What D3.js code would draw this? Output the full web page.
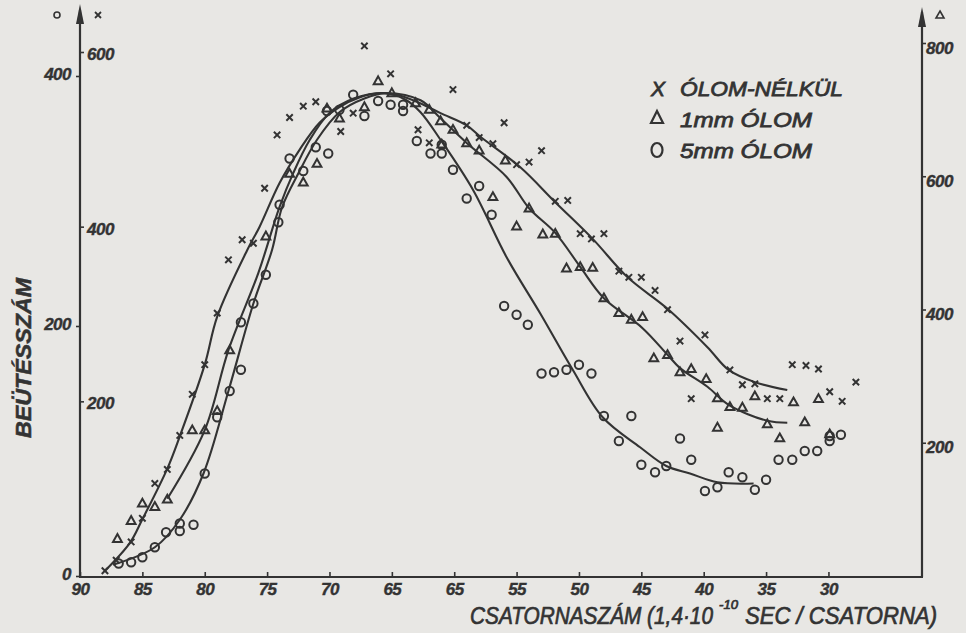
<!DOCTYPE html>
<html><head><meta charset="utf-8">
<script src="https://cdn.jsdelivr.net/npm/d3@7"></script>
<style>
html,body{margin:0;padding:0;background:#e8e7e4;}
svg{display:block;}
</style></head><body>
<svg id="chart" width="966" height="633"></svg>
<script>
// ---- tick labels ----
const xTicks = [90,85,80,75,70,65,60,55,50,45,40,35,30];
const xTickLabels = ["90","85","80","75","70","65","65","55","50","45","40","35","30"];
const noLeadTicks = [200,400,600];     // inner left scale (×)
const fiveMmTicks = [0,200,400];       // outer left scale (○)
const oneMmTicks  = [200,400,600,800]; // right scale (△)

// ---- series: [channel, counts] ----
const noLeadPoints = [[88.0,6],[87.1,18],[85.9,39],[85.0,66],[84.0,106],[83.0,122],[82.0,161],[81.0,208],[80.0,242],[79.0,301],[78.1,362],[77.0,385],[76.1,381],[75.2,444],[74.2,505],[73.2,525],[72.1,538],[71.1,543],[69.1,509],[68.1,530],[67.2,607],[65.1,575],[62.9,511],[62.0,496],[60.1,557],[59.0,516],[58.0,502],[56.9,495],[56.0,519],[55.0,471],[54.0,474],[53.0,487],[51.9,429],[50.9,430],[49.9,392],[49.0,386],[48.0,392],[46.8,349],[46.0,342],[45.0,342],[43.9,327],[42.9,305],[41.9,269],[41.0,203],[39.9,276],[37.9,236],[36.9,219],[35.9,220],[34.9,203],[33.9,203],[32.9,242],[31.8,241],[30.8,237],[29.9,211],[28.9,200],[27.8,222]];
const oneMmPoints = [[87.0,56],[85.9,83],[85.0,109],[84.0,104],[83.0,115],[81.0,219],[80.0,219],[79.0,248],[78.0,339],[75.1,510],[73.2,604],[72.1,591],[71.0,619],[70.2,702],[69.2,687],[67.2,704],[66.1,743],[65.0,725],[63.1,710],[62.0,700],[61.1,683],[61.0,648],[60.1,670],[59.0,650],[58.0,639],[56.9,569],[55.9,624],[55.0,525],[54.0,552],[52.9,513],[51.9,514],[51.0,462],[49.9,464],[48.9,463],[48.0,417],[46.8,395],[45.8,385],[44.9,389],[44.0,327],[42.9,332],[41.9,306],[41.0,311],[39.8,296],[38.9,267],[38.9,223],[37.9,254],[36.9,253],[35.9,270],[34.9,228],[33.9,207],[32.8,261],[31.9,231],[30.8,266],[29.9,213]];
const fiveMmPoints = [[86.9,10],[85.9,11],[85.0,15],[84.0,23],[83.1,35],[82.0,42],[82.0,36],[80.9,41],[80.0,82],[79.0,127],[78.0,148],[77.1,165],[77.1,203],[76.1,218],[75.1,241],[74.1,283],[74.0,297],[73.2,334],[72.1,324],[71.1,343],[70.1,338],[70.2,372],[69.2,373],[68.1,385],[67.2,368],[66.1,380],[65.1,377],[64.1,372],[64.1,377],[63.0,348],[61.9,338],[61.0,345],[61.0,338],[60.1,325],[59.0,302],[58.0,312],[57.0,289],[56.0,216],[55.0,209],[54.1,201],[53.0,162],[52.0,163],[51.0,165],[50.0,169],[49.0,162],[48.0,128],[46.8,108],[45.8,128],[45.0,89],[43.9,83],[43.0,88],[41.9,110],[41.0,93],[39.9,68],[38.9,71],[38.0,83],[36.9,79],[35.9,69],[35.0,77],[34.0,93],[32.9,93],[31.9,100],[30.9,100],[29.9,112],[29.9,108],[29.0,113]];

// ---- hand-drawn fitted curves ----
const noLeadCurve = [[88.0,6],[86.0,38],[85.0,65],[83.0,123],[82.0,160],[80.0,242],[79.0,297],[76.6,373],[75.6,400],[74.0,450],[72.4,488],[70.8,519],[69.2,537],[67.6,548],[65.9,553],[64.6,551],[63.0,543],[61.1,530],[59.0,516],[57.9,503],[54.7,468],[51.9,428],[48.9,386],[46.1,342],[42.9,306],[39.7,262],[38.0,236],[35.9,222],[33.3,213]];
const oneMmCurve = [[83.0,116],[80.0,219],[78.1,339],[75.7,455],[74.0,554],[72.9,605],[71.6,654],[70.0,695],[68.0,717],[65.5,725],[62.7,714],[61.1,687],[59.0,650],[55.8,599],[54.0,552],[51.9,515],[49.9,464],[48.0,417],[44.9,372],[42.9,332],[41.9,312],[39.7,284],[38.0,257],[34.9,233],[33.3,230]];
const fiveMmCurve = [[87.35,9],[84.0,23],[82.0,45],[80.1,82],[78.1,148],[76.1,218],[74.6,261],[73.8,295],[72.5,322],[71.0,349],[69.2,371],[67.2,382],[65.5,386],[63.9,381],[62.7,371],[61.1,349],[58.5,309],[55.8,255],[53.1,210],[50.5,165],[48.1,127],[45.1,103],[43.0,88],[41.1,82],[38.9,75],[36.0,74]];

const legendLabels = ["ÓLOM-NÉLKÜL","1mm ÓLOM","5mm ÓLOM"];
const yTitle = "BEÜTÉSSZÁM";

// ---- setup ----
const INK = "#333333";
const FONT = "'Liberation Sans',Arial,sans-serif";
const svg = d3.select("#chart");
svg.append("rect").attr("width",966).attr("height",633).attr("fill","#e8e7e4");

const x = d3.scaleLinear().domain([90,22.5]).range([80,922]);
const yNo = d3.scaleLinear().domain([0,600]).range([576,52]);
const y5 = d3.scaleLinear().domain([0,400]).range([576,76]);
const y1 = d3.scaleLinear().domain([0,800]).range([576,43]);

// axis lines with arrows
const ax = svg.append("g").attr("stroke",INK).attr("stroke-width",2.2).attr("fill","none");
ax.append("path").attr("d","M80,577V10");
ax.append("path").attr("d","M79,577H923");
ax.append("path").attr("d","M922,577V12");
svg.append("path").attr("d","M80,4L76,24L84,24Z").attr("fill",INK);
svg.append("path").attr("d","M922,7L918,27L926,27Z").attr("fill",INK);

function styleAxis(g, size){
  g.select(".domain").remove();
  g.selectAll("line").attr("stroke",INK).attr("stroke-width",1.6);
  g.selectAll("text").attr("fill",INK).attr("stroke",INK).attr("stroke-width",0.4)
    .style("font-family",FONT).style("font-style","italic").style("font-weight","bold")
    .style("font-size",size+"px").style("letter-spacing","-0.5px");
}

const gx = svg.append("g").attr("transform","translate(0,576)")
  .call(d3.axisBottom(x).tickValues(xTicks).tickFormat((d,i)=>xTickLabels[i]).tickSize(-4).tickPadding(7));
styleAxis(gx,17);

const gNo = svg.append("g").attr("transform","translate(80,0)")
  .call(d3.axisRight(yNo).tickValues(noLeadTicks).tickSize(4).tickPadding(3));
styleAxis(gNo,17);
gNo.selectAll("text").attr("dy","0.45em");

const g5 = svg.append("g").attr("transform","translate(80,0)")
  .call(d3.axisLeft(y5).tickValues(fiveMmTicks).tickSize(4).tickPadding(5));
styleAxis(g5,17);
g5.selectAll("text").attr("dy","0.2em");

const g1 = svg.append("g").attr("transform","translate(922,0)")
  .call(d3.axisRight(y1).tickValues(oneMmTicks).tickSize(4).tickPadding(0));
styleAxis(g1,17);
g1.selectAll("text").attr("dy","0.6em");

// scale-identifying marks at axis tops
svg.append("circle").attr("cx",57).attr("cy",15).attr("r",3).attr("fill","none").attr("stroke",INK).attr("stroke-width",1.6);
svg.append("path").attr("d","M95,12L101,18M101,12L95,18").attr("stroke",INK).attr("stroke-width",1.8);
svg.append("path").attr("d","M940,11L944,18L936,18Z").attr("fill","none").attr("stroke",INK).attr("stroke-width",1.6);

// curves
const mkLine = ys => d3.line().x(d=>x(d[0])).y(d=>ys(d[1])).curve(d3.curveCatmullRom.alpha(0.5));
const cg = svg.append("g").attr("fill","none").attr("stroke",INK).attr("stroke-width",2.1);
cg.append("path").attr("d",mkLine(yNo)(noLeadCurve));
cg.append("path").attr("d",mkLine(y1)(oneMmCurve));
cg.append("path").attr("d",mkLine(y5)(fiveMmCurve));

// markers
const mg = svg.append("g").attr("stroke",INK).attr("stroke-width",2).attr("fill","none");
mg.selectAll("path.cross").data(noLeadPoints).join("path").attr("class","cross")
  .attr("d",d=>{const cx=x(d[0]),cy=yNo(d[1]),s=3.2;return `M${cx-s},${cy-s}L${cx+s},${cy+s}M${cx+s},${cy-s}L${cx-s},${cy+s}`;});
mg.selectAll("path.tri").data(oneMmPoints).join("path").attr("class","tri")
  .attr("d",d=>{const cx=x(d[0]),cy=y1(d[1]);return `M${cx},${cy-4.6}L${cx+4.4},${cy+3.2}L${cx-4.4},${cy+3.2}Z`;});
mg.selectAll("circle").data(fiveMmPoints).join("circle")
  .attr("cx",d=>x(d[0])).attr("cy",d=>y5(d[1])).attr("r",4.2);

// legend
const lg = svg.append("g").attr("fill",INK).style("font-family",FONT).style("font-style","italic").style("font-size","21px");
lg.append("text").attr("x",651).attr("y",96).attr("stroke",INK).attr("stroke-width",0.8).text("X");
lg.append("path").attr("d","M657,111L663,123L651,123Z").attr("fill","none").attr("stroke",INK).attr("stroke-width",2.2);
lg.append("ellipse").attr("cx",657).attr("cy",150).attr("rx",5.5).attr("ry",7).attr("fill","none").attr("stroke",INK).attr("stroke-width",2.2);
const lx=[680,680,680], lyy=[96,127,158], lw=[163,132,132];
legendLabels.forEach((t,i)=>{
  lg.append("text").attr("x",lx[i]).attr("y",lyy[i]).attr("textLength",lw[i]).attr("lengthAdjust","spacingAndGlyphs")
    .attr("stroke",INK).attr("stroke-width",0.8).text(t);
});

// y title
svg.append("text").attr("transform","translate(31,358) rotate(-90)").attr("text-anchor","middle")
  .attr("fill",INK).attr("stroke",INK).attr("stroke-width",0.5)
  .style("font-family",FONT).style("font-style","italic").style("font-weight","bold").style("font-size","22px")
  .attr("textLength",160).attr("lengthAdjust","spacingAndGlyphs").text(yTitle);

// x title (three pieces: main, exponent, rest)
const tStyle = s => s.attr("fill",INK).attr("stroke",INK).attr("stroke-width",0.7)
  .style("font-family",FONT).style("font-style","italic").attr("lengthAdjust","spacingAndGlyphs");
svg.append("text").attr("x",470).attr("y",624).style("font-size","24px").attr("textLength",243)
  .call(tStyle).text("CSATORNASZÁM (1,4·10");
svg.append("text").attr("x",719).attr("y",609).style("font-size","12px").attr("textLength",19)
  .call(tStyle).text("-10");
svg.append("text").attr("x",745).attr("y",624).style("font-size","24px").attr("textLength",192)
  .call(tStyle).text("SEC / CSATORNA)");
</script>
</body></html>
